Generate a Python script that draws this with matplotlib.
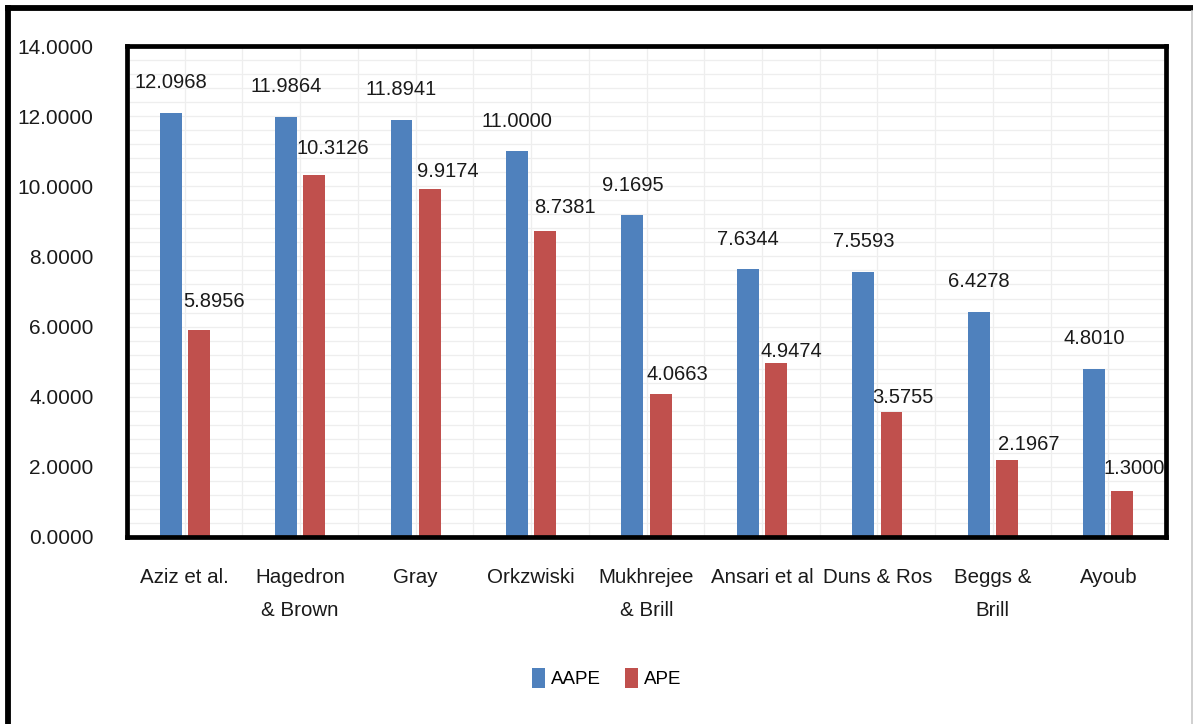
import matplotlib
matplotlib.use("Agg")
import matplotlib.pyplot as plt
import numpy as np
from matplotlib.lines import Line2D

categories = ["Aziz et al.", "Hagedron\n& Brown", "Gray", "Orkzwiski", "Mukhrejee\n& Brill",
              "Ansari et al", "Duns & Ros", "Beggs &\nBrill", "Ayoub"]
aape = [12.0968, 11.9864, 11.8941, 11.0000, 9.1695, 7.6344, 7.5593, 6.4278, 4.8010]
ape = [5.8956, 10.3126, 9.9174, 8.7381, 4.0663, 4.9474, 3.5755, 2.1967, 1.3000]
series_names = ["AAPE", "APE"]
yticks = [0, 2, 4, 6, 8, 10, 12, 14]

# label placement (pixels) for the APE labels, as seen in the reference
ape_dy = [29, 27, 18, 23, 20, 12, 14, 15, 23]
ape_dx = [-5, -7, -2, 0, -3, -5, -8, 2, -8]

BLUE = "#4F81BD"
RED = "#C0504D"
FONT = ["Liberation Sans", "DejaVu Sans"]
plt.rcParams["font.family"] = FONT

W, H = 1193, 724
fig = plt.figure(figsize=(W / 100, H / 100), dpi=100)
fig.patch.set_facecolor("white")

ax = fig.add_axes([127 / W, 1 - 537 / H, (1166 - 127) / W, (537 - 46) / H])
x = np.arange(len(categories))
bw = 0.19
off = 0.122

# grid
for gy in np.arange(0.4, 14.0, 0.4):
    ax.axhline(gy, color="#EEEEEE", lw=0.9, zorder=0)
for gx in np.arange(-0.5, 8.6, 0.5):
    ax.axvline(gx, color="#EEEEEE", lw=0.9, zorder=0)

b1 = ax.bar(x - off, aape, bw, color=BLUE, zorder=2, label=series_names[0])
b2 = ax.bar(x + off, ape, bw, color=RED, zorder=2, label=series_names[1])

for i, v in enumerate(aape):
    ax.annotate(f"{v:.4f}", (x[i] - off, v), xytext=(0, 30), textcoords="offset pixels",
                ha="center", va="center", fontsize=14.5, color="#1a1a1a", zorder=4)
for i, v in enumerate(ape):
    ax.annotate(f"{v:.4f}", (x[i] + off - bw / 2, v), xytext=(ape_dx[i], ape_dy[i]),
                textcoords="offset pixels", ha="left", va="center", fontsize=14.5,
                color="#1a1a1a", zorder=4, annotation_clip=False)

ax.set_xlim(-0.5, len(categories) - 0.5)
ax.set_ylim(0, 14)
ax.set_yticks(yticks)
ax.set_yticklabels([f"{t:.4f}" for t in yticks])
ax.set_xticks(x)
ax.set_xticklabels(categories, linespacing=1.95)
ax.tick_params(axis="y", length=0, pad=24, labelsize=15, labelcolor="#1a1a1a")
ax.tick_params(axis="x", length=0, pad=22, labelsize=14.8, labelcolor="#1a1a1a")
for s in ax.spines.values():
    s.set_linewidth(3.4)
    s.set_color("black")
    s.set_zorder(5)

fig.legend(handles=[b1, b2], labels=series_names, loc="center",
           bbox_to_anchor=(607 / W, 1 - 678 / H), ncol=2, frameon=False,
           fontsize=13.5, handlelength=0.65, handleheight=1.3, handletextpad=0.35,
           columnspacing=1.3)

# outer frame
fig.add_artist(Line2D([8 / W, 8 / W], [0, 1 - 8 / H], color="black", lw=4.2,
                      transform=fig.transFigure, solid_capstyle="projecting"))
fig.add_artist(Line2D([8 / W, 1], [1 - 8 / H, 1 - 8 / H], color="black", lw=4.2,
                      transform=fig.transFigure, solid_capstyle="projecting"))
fig.add_artist(Line2D([1191.5 / W, 1191.5 / W], [0, 1 - 11 / H], color="#C8C8C8", lw=1.2,
                      transform=fig.transFigure))

fig.savefig("out.png", dpi=100, facecolor="white")
